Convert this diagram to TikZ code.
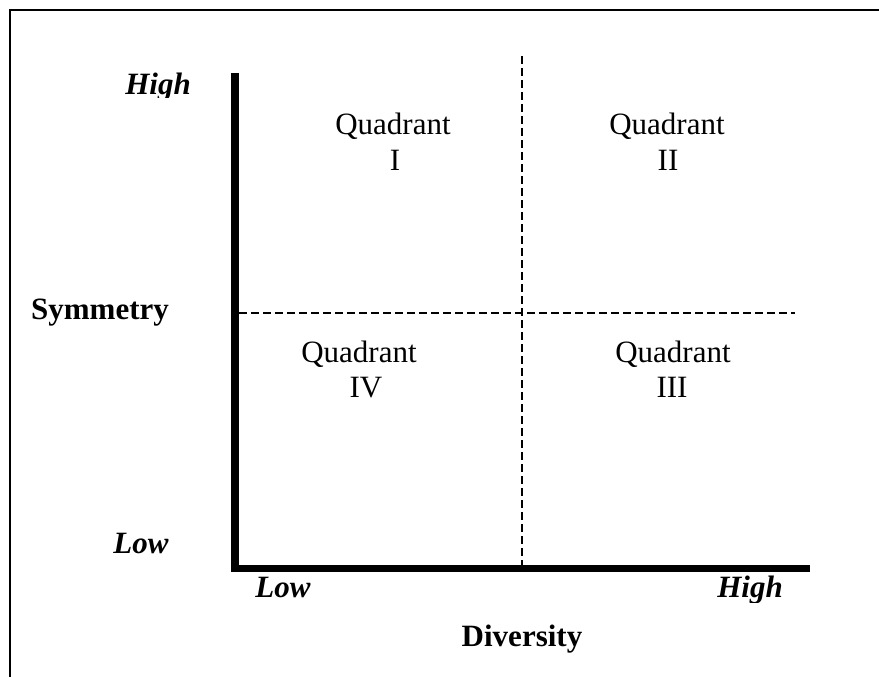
\documentclass[tikz,border=0pt]{standalone}
\usepackage{fontspec}
\setmainfont{Liberation Serif}
\begin{document}
\begin{tikzpicture}[x=1pt,y=-1pt,
  lbl/.style={inner sep=0pt,anchor=base,font=\fontsize{31}{36}\selectfont},
  axislbl/.style={lbl,font=\fontsize{31}{36}\selectfont\bfseries\itshape},
  titlelbl/.style={lbl,font=\fontsize{31}{36}\selectfont\bfseries},
  axisline/.style={line width=7.5pt,line join=miter},
  divider/.style={line width=1.3pt,dash pattern=on 8pt off 4pt},
  frameline/.style={line width=2.5pt}]
\useasboundingbox (0,0) rectangle (879,677);
\clip (0,0) rectangle (879,677);
% frame
\draw[frameline] (10,10) rectangle (900,700);
% axes
\coordinate (ytop) at (235,73);
\coordinate (origin) at (235,568.5);
\coordinate (xend) at (810,568.5);
\draw[axisline] (ytop) -- (origin) -- (xend);
% dividers
\coordinate (vtop) at (522,56);
\coordinate (vbot) at (522,565);
\coordinate (hleft) at (239,313);
\coordinate (hright) at (795,313);
\draw[divider] (vtop) -- (vbot);
\draw[divider] (hleft) -- (hright);
% axis labels
\begin{scope}
\clip (100,60) rectangle (220,98);
\node[axislbl] (yhigh) at (158,95) {High};
\end{scope}
\node[axislbl] (ylow) at (141,553) {Low};
\node[titlelbl] (sym) at (100,319) {Symmetry};
\begin{scope}
\clip (240,575) rectangle (820,602);
\node[axislbl] (xlow) at (283,597) {Low};
\node[axislbl] (xhigh) at (750,597) {High};
\end{scope}
\node[titlelbl] (div) at (522,646) {Diversity};
% quadrant labels
\node[lbl] (q1a) at (393,135) {Quadrant};
\node[lbl] (q1b) at (395,170) {I};
\node[lbl] (q2a) at (667,135) {Quadrant};
\node[lbl] (q2b) at (668,170) {II};
\node[lbl] (q4a) at (359,362) {Quadrant};
\node[lbl] (q4b) at (366,397) {IV};
\node[lbl] (q3a) at (673,362) {Quadrant};
\node[lbl] (q3b) at (672,397) {III};
\end{tikzpicture}
\end{document}
